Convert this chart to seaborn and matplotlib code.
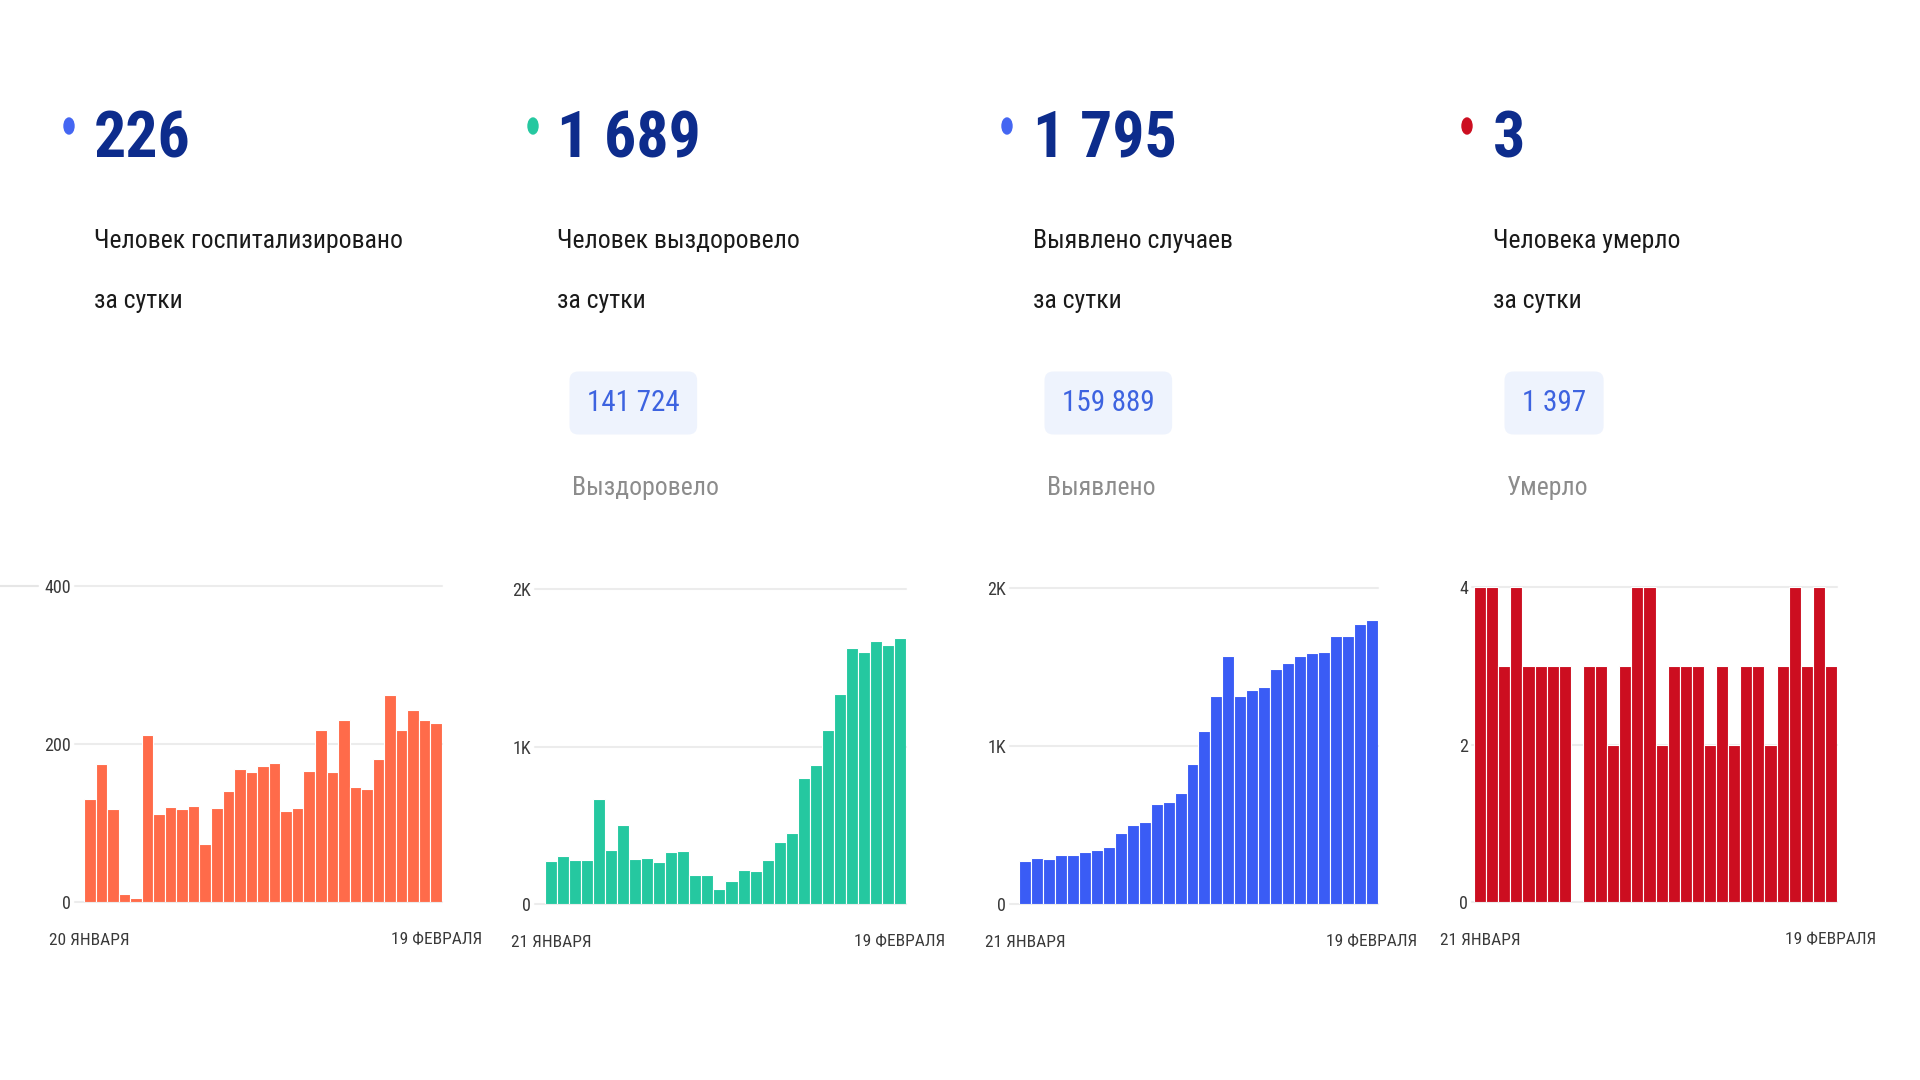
import matplotlib
matplotlib.use("Agg")
import matplotlib.pyplot as plt
from matplotlib.patches import Ellipse
from matplotlib.lines import Line2D
import pandas as pd
import seaborn as sns

# daily values
hosp = [131, 175, 118, 10, 5, 212, 112, 120, 118, 122, 74, 119, 140, 168, 164, 172,
        176, 115, 119, 166, 218, 164, 231, 145, 143, 181, 262, 218, 243, 231, 226]
recovered = [271, 307, 281, 281, 667, 345, 504, 288, 292, 265, 332, 336, 184, 186, 97,
             148, 218, 207, 281, 392, 451, 800, 880, 1107, 1333, 1625, 1598, 1672, 1647, 1689]
cases = [275, 289, 283, 308, 312, 327, 342, 361, 448, 497, 520, 631, 646, 701, 885,
         1098, 1318, 1567, 1318, 1352, 1371, 1487, 1523, 1571, 1590, 1592, 1696, 1696, 1772, 1795]
deaths = [4, 4, 3, 4, 3, 3, 3, 3, 0, 3, 3, 2, 3, 4, 4, 2, 3, 3, 3, 2, 3, 2, 3, 3, 2,
          3, 4, 3, 4, 3]

big_numbers = ["226", "1 689", "1 795", "3"]
captions = [("Человек госпитализировано", "за сутки"),
            ("Человек выздоровело", "за сутки"),
            ("Выявлено случаев", "за сутки"),
            ("Человека умерло", "за сутки")]
totals = [None, "141 724", "159 889", "1 397"]
total_labels = [None, "Выздоровело", "Выявлено", "Умерло"]
start_labels = ["20 ЯНВАРЯ", "21 ЯНВАРЯ", "21 ЯНВАРЯ", "21 ЯНВАРЯ"]
end_label = "19 ФЕВРАЛЯ"
y_ticks = [[0, 200, 400], [0, 1000, 2000], [0, 1000, 2000], [0, 2, 4]]
y_ticklabels = [["0", "200", "400"], ["0", "1K", "2K"], ["0", "1K", "2K"], ["0", "2", "4"]]

bar_colors = ["#ff6b4a", "#25c8a0", "#3a5cf5", "#cc0e20"]
dot_colors = ["#4466f2", "#25c8a0", "#4466f2", "#cc0e20"]

sns.set_theme(style="white")
FAM = ["Roboto Condensed", "DejaVu Sans"]
plt.rcParams["font.family"] = FAM
plt.rcParams["font.stretch"] = "condensed"

W, H = 1920, 1080
fig = plt.figure(figsize=(19.2, 10.8), dpi=100)


def fx(px):
    return px / W


def fy(py):
    return 1 - py / H


# layout in pixels of the reference
dot_x = [69, 533, 1007, 1467]
num_x = [94, 557, 1033, 1493]
box_x = [None, 572, 1047, 1507]
axes_px = [(75, 442, 586, 902, -1.28, 30.5),
           (535, 906, 589, 904, -1.33, 29.5),
           (1010, 1378, 588, 904, -1.25, 29.5),
           (1472, 1837, 587, 902, -0.67, 29.5)]
series = [hosp, recovered, cases, deaths]

for i in range(4):
    fig.add_artist(Ellipse((fx(dot_x[i]), fy(126)), 10 / W, 16 / H,
                           transform=fig.transFigure, color=dot_colors[i]))
    fig.text(fx(num_x[i]), fy(158), big_numbers[i], fontsize=46, fontweight="bold",
             color="#0d2c8c", va="baseline", ha="left")
    fig.text(fx(num_x[i]), fy(248), captions[i][0], fontsize=18.5, color="#1a1a1a",
             va="baseline", ha="left")
    fig.text(fx(num_x[i]), fy(308), captions[i][1], fontsize=18.5, color="#1a1a1a",
             va="baseline", ha="left")
    if totals[i]:
        fig.text(fx(box_x[i] + 15), fy(403), totals[i], fontsize=21, color="#3d63e0",
                 va="center", ha="left",
                 bbox=dict(boxstyle="round,pad=0.6,rounding_size=0.3", fc="#eef3fd", ec="none"))
        fig.text(fx(box_x[i]), fy(495), total_labels[i], fontsize=18.5, color="#8c8c8c",
                 va="baseline", ha="left")

    x0, x1, yt, yb, xmin, xmax = axes_px[i]
    ax = fig.add_axes([fx(x0), fy(yb), (x1 - x0) / W, (yb - yt) / H])
    df = pd.DataFrame({"day": range(len(series[i])), "value": series[i]})
    sns.barplot(data=df, x="day", y="value", color=bar_colors[i], width=1.0,
                edgecolor="white", linewidth=0.8, saturation=1, ax=ax, zorder=2)
    ax.set_xlim(xmin, xmax)
    ax.set_ylim(0, y_ticks[i][-1])
    ax.set_yticks(y_ticks[i])
    ax.set_yticklabels(y_ticklabels[i])
    ax.set_xticks([0, len(series[i]) - 1])
    ax.set_xticklabels([start_labels[i], end_label])
    ax.set_xlabel("")
    ax.set_ylabel("")
    ax.grid(axis="y", color="#ececec", linewidth=1.5, zorder=0)
    for gl in ax.get_ygridlines():
        gl.set_clip_on(False)
    ax.tick_params(axis="y", length=0, pad=3, labelsize=13, labelcolor="#3a3a3a")
    ax.tick_params(axis="x", length=0, pad=22, labelsize=12.5, labelcolor="#3a3a3a")
    sns.despine(ax=ax, left=True, bottom=True)
    ax.set_facecolor("none")

fig.add_artist(Line2D([0, fx(38)], [fy(586), fy(586)], transform=fig.transFigure,
                      color="#e6e6e6", linewidth=1.5))

fig.savefig("out.png", dpi=100, facecolor="white")
